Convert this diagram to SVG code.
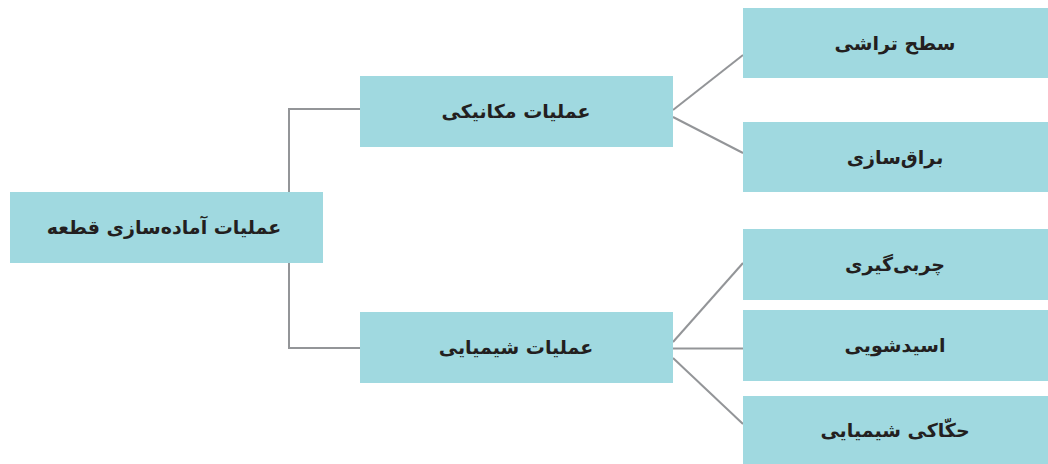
<svg xmlns="http://www.w3.org/2000/svg" width="1048" height="464" viewBox="0 0 1048 464">
<style>
.box{fill:#a0d9e0}
.t{font-family:"DejaVu Sans","Noto Sans",sans-serif;font-weight:bold;font-size:19px;fill:#231f20;text-anchor:middle;dominant-baseline:central}
.c{stroke:#939598;stroke-width:2;fill:none}
</style>
<rect width="1048" height="464" fill="#fff"/>
<g id="connectors">
<polyline class="c" points="289,192 289,109 360,109"/>
<polyline class="c" points="289,262 289,348 360,348"/>
<line class="c" x1="673" y1="110" x2="743" y2="55"/>
<line class="c" x1="673" y1="117" x2="743" y2="153"/>
<line class="c" x1="673" y1="342" x2="743" y2="263"/>
<line class="c" x1="673" y1="348.5" x2="743" y2="348.5"/>
<line class="c" x1="673" y1="358" x2="743" y2="424"/>
</g>
<g id="root"><rect class="box" x="10" y="192" width="313" height="71"/><text class="t" x="164" y="227" direction="rtl">عملیات آماده‌سازی قطعه</text></g>
<g id="mech"><rect class="box" x="360" y="76" width="313" height="71"/><text class="t" x="516" y="111" direction="rtl">عملیات مکانیکی</text></g>
<g id="chem"><rect class="box" x="360" y="312" width="313" height="71"/><text class="t" x="516" y="347" direction="rtl">عملیات شیمیایی</text></g>
<g id="n1"><rect class="box" x="743" y="8" width="305" height="70"/><text class="t" x="895" y="43" direction="rtl">سطح تراشی</text></g>
<g id="n2"><rect class="box" x="743" y="122" width="305" height="70"/><text class="t" x="895" y="157" direction="rtl">براق‌سازی</text></g>
<g id="n3"><rect class="box" x="743" y="229" width="305" height="71"/><text class="t" x="895" y="264" direction="rtl">چربی‌گیری</text></g>
<g id="n4"><rect class="box" x="743" y="310" width="305" height="71"/><text class="t" x="895" y="345" direction="rtl">اسیدشویی</text></g>
<g id="n5"><rect class="box" x="743" y="396" width="305" height="68"/><text class="t" x="895" y="430" direction="rtl">حکّاکی شیمیایی</text></g>
</svg>
